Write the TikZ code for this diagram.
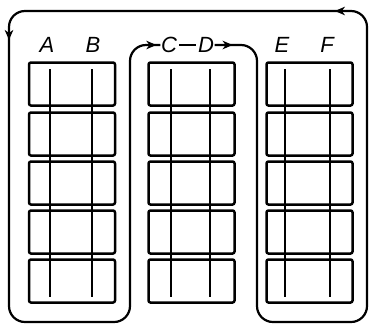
\documentclass[tikz,border=0pt]{standalone}
\usepackage{fontspec}
\setmainfont{Liberation Sans}
\usetikzlibrary{arrows.meta,decorations.markings}
\begin{document}
\begin{tikzpicture}[x=1pt,y=1pt,
  cell/.style={draw,line width=2.5pt,rounded corners=2pt,minimum width=86pt,minimum height=43pt,inner sep=0pt},
  rail/.style={line width=1.7pt},
  lbl/.style={font=\itshape\fontsize{22}{22}\selectfont,inner sep=0.5pt},
  loopline/.style={line width=2.2pt,rounded corners=16pt},
  tiphead/.style={}
]
\useasboundingbox (0,0) rectangle (371,-325);
% boxes
\foreach \c/\x in {1/72,2/191.5,3/309.5}{
  \foreach \r/\y in {1/84,2/134,3/183,4/232,5/281}{
    \node[cell] (b\c\r) at (\x,-\y) {};
  }
}
% rails
\foreach \x in {50,92,171,210,285,330}{
  \draw[rail] (\x,-69) -- (\x,-297);
}
% labels
\node[lbl] (A) at (47,-45) {A};
\node[lbl] (B) at (93,-45) {B};
\node[lbl] (C) at (169,-45) {C};
\node[lbl] (D) at (206,-45) {D};
\node[lbl] (E) at (282,-45) {E};
\node[lbl] (F) at (327,-45) {F};
% dash between C and D
\draw[line width=2.2pt,shorten <=1.5pt,shorten >=1.5pt] (C.east) -- (D.west);
% serpentine loop
\coordinate (p1) at (257,-45);
\coordinate (p2) at (257,-322);
\coordinate (p3) at (367,-322);
\coordinate (p4) at (367,-11);
\coordinate (p5) at (9,-11);
\coordinate (p6) at (9,-322);
\coordinate (p7) at (130,-322);
\coordinate (p8) at (130,-45);
\draw[loopline,postaction={decorate},
  decoration={markings,
    mark=at position 18pt with {\arrow{Stealth[length=10pt,width=8.5pt,inset=3pt]}},
    mark=at position 745pt with {\arrow{Stealth[length=10pt,width=8.5pt,inset=3pt]}},
    mark=at position 1093pt with {\arrow{Stealth[length=10pt,width=8.5pt,inset=3pt]}},
    mark=at position -4pt with {\arrow{Stealth[length=10pt,width=8.5pt,inset=3pt]}}}]
  (D.east) -- (p1) -- (p2) -- (p3) -- (p4) -- (p5) -- (p6) -- (p7) -- (p8) -- (C.west);
\end{tikzpicture}
\end{document}
